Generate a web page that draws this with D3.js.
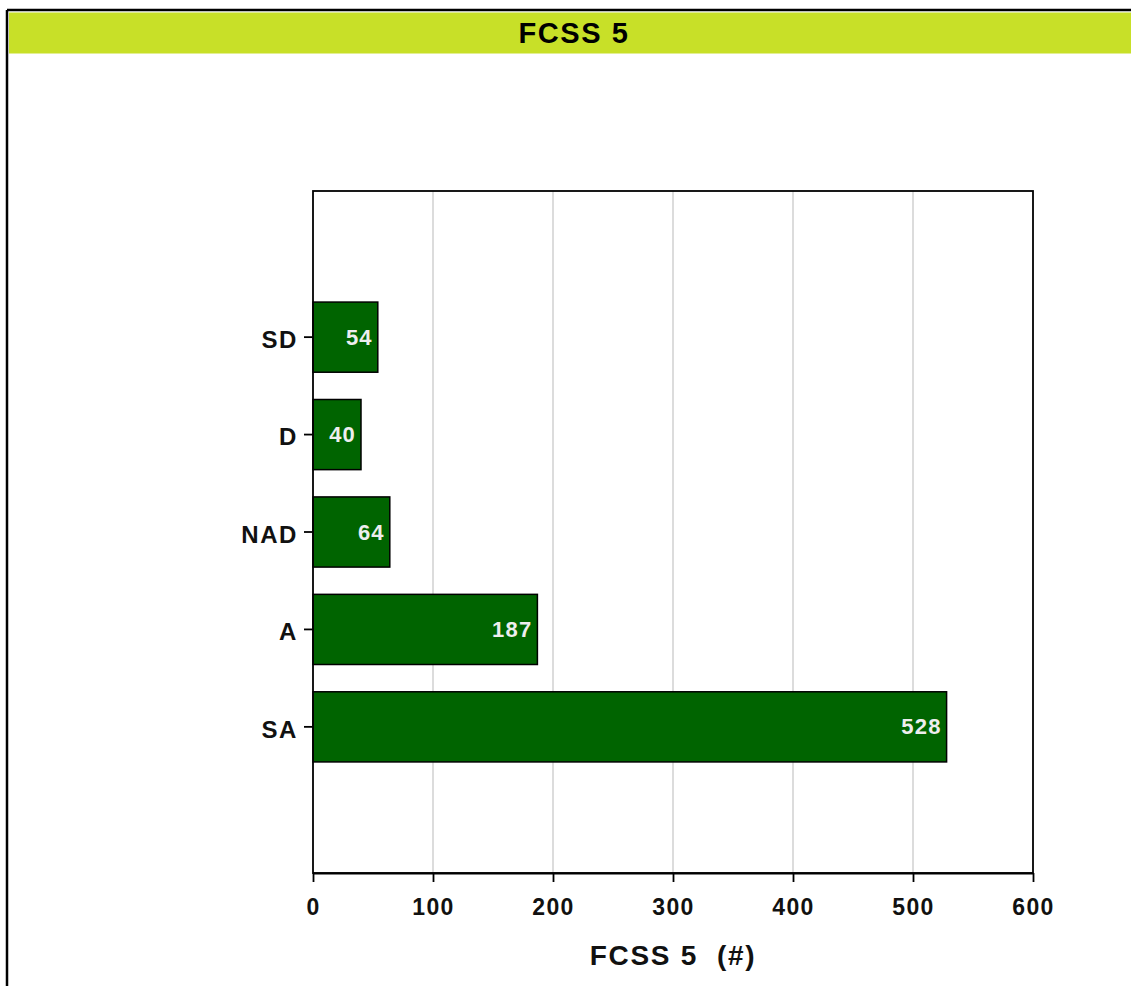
<!DOCTYPE html>
<html>
<head>
<meta charset="utf-8">
<script src="https://cdn.jsdelivr.net/npm/d3@7"></script>
<style>
  html, body { margin: 0; padding: 0; background: #fff; }
  svg { display: block; }
  text { font-family: "Liberation Sans", Arial, Helvetica, sans-serif; font-weight: bold; }
</style>
</head>
<body>
<script>
const chartTitle = "FCSS 5";
const axisTitle = "FCSS 5  (#)";
const categories = ["SD", "D", "NAD", "A", "SA"];
const values = [54, 40, 64, 187, 528];
const xTicks = [0, 100, 200, 300, 400, 500, 600];

const W = 1131, H = 986;
const svg = d3.select("body").append("svg").attr("width", W).attr("height", H);

// outer frame
svg.append("line").attr("x1", 7).attr("x2", W).attr("y1", 10).attr("y2", 10)
  .attr("stroke", "#000").attr("stroke-width", 2.5);
svg.append("line").attr("x1", 7).attr("x2", 7).attr("y1", 10).attr("y2", H)
  .attr("stroke", "#000").attr("stroke-width", 2.5);

// title bar
svg.append("rect").attr("x", 9).attr("y", 12.5).attr("width", W - 9).attr("height", 41)
  .attr("fill", "#c8e028");
svg.append("text").attr("x", 574).attr("y", 33).attr("text-anchor", "middle")
  .attr("dominant-baseline", "central").attr("font-size", 29).attr("letter-spacing", 1.6)
  .attr("fill", "#000").text(chartTitle);

const plot = { left: 313, right: 1033, top: 191, bottom: 873 };

const x = d3.scaleLinear().domain([0, 600]).range([plot.left, plot.right]);
const y = d3.scaleBand().domain(categories).range([plot.top, plot.bottom])
  .paddingInner(0.28).paddingOuter(1.14);

// grid
svg.append("g").selectAll("line").data(xTicks.slice(1, -1)).join("line")
  .attr("x1", d => x(d)).attr("x2", d => x(d))
  .attr("y1", plot.top).attr("y2", plot.bottom)
  .attr("stroke", "#d0d0d0").attr("stroke-width", 1.5);

// bars
svg.append("g").selectAll("rect").data(categories).join("rect")
  .attr("x", x(0)).attr("y", d => y(d))
  .attr("width", (d, i) => x(values[i]) - x(0))
  .attr("height", y.bandwidth())
  .attr("fill", "#006400").attr("stroke", "#000").attr("stroke-width", 1.5);

// value labels
svg.append("g").selectAll("text").data(categories).join("text")
  .attr("x", (d, i) => x(values[i]) - 5)
  .attr("y", d => y(d) + y.bandwidth() / 2)
  .attr("text-anchor", "end").attr("dominant-baseline", "central")
  .attr("font-size", 22).attr("letter-spacing", 1.2)
  .attr("fill", "#eeeeee").text((d, i) => values[i]);

// frame
svg.append("rect").attr("x", plot.left).attr("y", plot.top)
  .attr("width", plot.right - plot.left).attr("height", plot.bottom - plot.top)
  .attr("fill", "none").attr("stroke", "#000").attr("stroke-width", 1.8);

// x axis
const xAxis = svg.append("g").attr("transform", `translate(0,${plot.bottom})`)
  .call(d3.axisBottom(x).tickValues(xTicks).tickSize(9).tickPadding(17).tickSizeOuter(0));
xAxis.select(".domain").attr("stroke-width", 1.8);
xAxis.selectAll(".tick line").attr("stroke-width", 1.8);
xAxis.selectAll("text").attr("font-size", 23).attr("letter-spacing", 1.3)
  .attr("font-family", null).attr("fill", "#111");

// y axis
const yAxis = svg.append("g").attr("transform", `translate(${plot.left},0)`)
  .call(d3.axisLeft(y).tickSize(9).tickPadding(6).tickSizeOuter(0));
yAxis.select(".domain").remove();
yAxis.selectAll(".tick line").attr("stroke-width", 1.8);
yAxis.selectAll("text").attr("font-size", 24).attr("letter-spacing", 1.6)
  .attr("dy", "0.45em")
  .attr("font-family", null).attr("fill", "#111");

// axis title
svg.append("text").attr("x", (plot.left + plot.right) / 2).attr("y", 955)
  .attr("text-anchor", "middle").attr("dominant-baseline", "central")
  .attr("font-size", 28).attr("letter-spacing", 1.7).attr("fill", "#111")
  .text(axisTitle).style("white-space", "pre");
</script>
</body>
</html>
